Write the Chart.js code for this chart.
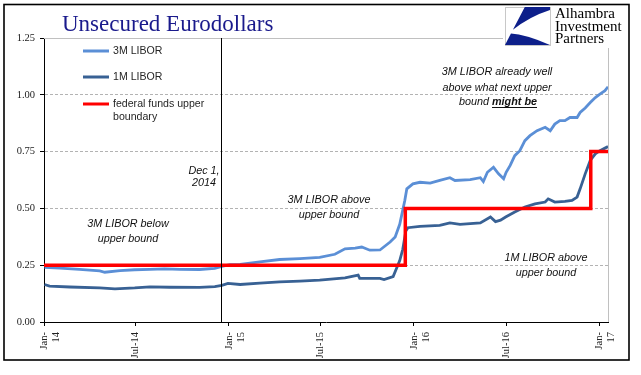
<!DOCTYPE html>
<html><head><meta charset="utf-8">
<script src="https://cdn.jsdelivr.net/npm/chart.js@4/dist/chart.umd.min.js"></script>
<style>html,body{margin:0;padding:0;background:#fff;}canvas{display:block;}</style>
</head><body>
<canvas id="c" width="641" height="375"></canvas>
<script>
// ---------- data ----------
const startDate = '2014-01-01';
const endDate = '2017-01-18';

const dates3M = ['2014-01-02','2014-02-01','2014-03-12','2014-04-21','2014-05-01','2014-05-31','2014-06-29','2014-07-29','2014-08-27','2014-09-26','2014-11-04','2014-12-04','2014-12-18',
 '2015-01-03','2015-01-23','2015-03-03','2015-04-11','2015-05-21','2015-06-29','2015-07-29','2015-08-18','2015-09-07','2015-09-20','2015-10-06','2015-10-26','2015-11-15','2015-11-25','2015-12-04','2015-12-14','2015-12-18','2015-12-30',
 '2016-01-13','2016-02-02','2016-02-21','2016-03-12','2016-03-22','2016-04-21','2016-05-11','2016-05-17','2016-05-25','2016-06-06','2016-06-16','2016-06-26','2016-07-01','2016-07-09','2016-07-18','2016-07-28','2016-08-07','2016-08-17','2016-08-31','2016-09-16','2016-09-26','2016-10-05','2016-10-15','2016-10-25','2016-11-04','2016-11-18','2016-11-24','2016-12-04','2016-12-14','2016-12-24',
 '2017-01-02','2017-01-12','2017-01-18'];
const libor3M = [0.240,0.237,0.232,0.225,0.219,0.226,0.230,0.232,0.234,0.232,0.231,0.236,0.245,
 0.252,0.254,0.265,0.275,0.279,0.284,0.298,0.322,0.325,0.330,0.316,0.317,0.352,0.374,0.430,0.535,0.586,0.608,
 0.615,0.611,0.623,0.635,0.623,0.627,0.635,0.618,0.659,0.681,0.652,0.630,0.659,0.689,0.732,0.754,0.798,0.820,0.842,0.857,0.842,0.871,0.886,0.886,0.900,0.900,0.922,0.942,0.966,0.988,
 1.003,1.018,1.035];

const dates1M = ['2014-01-02','2014-01-12','2014-02-21','2014-04-21','2014-05-21','2014-06-29','2014-07-29','2014-09-06','2014-11-04','2014-12-04','2014-12-18','2014-12-30',
 '2015-01-23','2015-03-03','2015-04-11','2015-05-21','2015-06-29','2015-08-18','2015-09-13','2015-09-16','2015-10-26','2015-11-03','2015-11-21','2015-11-29','2015-12-04','2015-12-10','2015-12-16','2015-12-20',
 '2016-01-13','2016-02-21','2016-03-12','2016-04-01','2016-05-11','2016-05-31','2016-06-10','2016-06-20','2016-06-30','2016-07-18','2016-08-07','2016-08-27','2016-09-16','2016-09-22','2016-10-05','2016-10-25','2016-11-08','2016-11-18','2016-11-24','2016-12-04','2016-12-14','2016-12-24',
 '2017-01-02','2017-01-18'];
const libor1M = [0.165,0.158,0.154,0.150,0.146,0.150,0.155,0.153,0.152,0.156,0.161,0.170,
 0.165,0.171,0.177,0.180,0.184,0.194,0.206,0.192,0.192,0.187,0.200,0.243,0.270,0.320,0.400,0.415,
 0.421,0.425,0.436,0.430,0.436,0.462,0.442,0.448,0.462,0.484,0.506,0.520,0.528,0.542,0.528,0.531,0.535,0.550,0.586,0.652,0.711,0.740,
 0.754,0.772];

const fedDates = ['2014-01-01','2015-12-15','2016-12-15','2017-01-18'];
const fedUpper = [0.25,0.50,0.75,0.75];

const tickDates = ['2014-01-01','2014-07-01','2015-01-01','2015-07-01','2016-01-01','2016-07-01','2017-01-01'];
const tickLabels = [['Jan-','14'],'Jul-14',['Jan-','15'],'Jul-15',['Jan-','16'],'Jul-16',['Jan-','17']];
const yTicks = [0,0.25,0.5,0.75,1.0,1.25];
const yTickLabels = ['0.00','0.25','0.50','0.75','1.00','1.25'];
const markerDate = '2014-12-16';

// ---------- helpers ----------
function dayNum(s){const p=s.split('-').map(Number);return Math.round((Date.UTC(p[0],p[1]-1,p[2])-Date.UTC(2014,0,1))/864e5);}
const pts=(ds,vs)=>ds.map((d,i)=>({x:dayNum(d),y:vs[i]}));

const C3M='#5b8fd6', C1M='#386194', CFED='#ff0000';

const decor={
  id:'decor',
  beforeDatasetsDraw(chart){
    const {ctx,chartArea:a}=chart;
    ctx.save();ctx.strokeStyle='#c0c0c0';ctx.lineWidth=1;ctx.setLineDash([]);
    ctx.beginPath();ctx.moveTo(a.left,Math.round(a.top)+0.5);ctx.lineTo(a.right,Math.round(a.top)+0.5);
    ctx.moveTo(Math.round(a.right)+0.5,a.top);ctx.lineTo(Math.round(a.right)+0.5,a.bottom);ctx.stroke();ctx.restore();
  },
  afterDatasetsDraw(chart){
    const {ctx,chartArea:a,scales:{x}}=chart;
    const mx=Math.round(x.getPixelForValue(dayNum(markerDate)))+0.5;
    ctx.save();ctx.strokeStyle='#000';ctx.lineWidth=1;ctx.beginPath();ctx.moveTo(mx,a.top);ctx.lineTo(mx,a.bottom);ctx.stroke();ctx.restore();
  },
  afterDraw(chart){
    const ctx=chart.ctx;
    ctx.save();
    // title
    ctx.fillStyle='#1a1a8c';ctx.font='23px "Liberation Serif"';ctx.textAlign='left';ctx.textBaseline='alphabetic';
    ctx.fillText('Unsecured Eurodollars',62,31);
    // logo box
    ctx.fillStyle='#fff';ctx.fillRect(503,5,125,43);
    const L=505,T=7,W=45,H=38;
    ctx.strokeStyle='#c8c8c8';ctx.lineWidth=1;ctx.strokeRect(L+0.5,T+0.5,W,H);
    const P=(u,v)=>[L+u*W,T+v*H];
    ctx.fillStyle='#0d1f8a';
    ctx.beginPath();ctx.moveTo(...P(0.44,0));ctx.lineTo(...P(1,0));ctx.lineTo(...P(1,0.08));
    ctx.quadraticCurveTo(...P(0.55,0.25),...P(0.176,0.6));ctx.closePath();ctx.fill();
    ctx.beginPath();ctx.moveTo(...P(0.132,0.7));ctx.quadraticCurveTo(...P(0.45,0.72),...P(1,1));ctx.lineTo(...P(0,1));ctx.closePath();ctx.fill();
    ctx.fillStyle='#000';ctx.font='15px "Liberation Serif"';
    ctx.fillText('Alhambra',555,18);ctx.fillText('Investment',555,31);ctx.fillText('Partners',555,43);
    // legend
    const leg=[[C3M,'3M LIBOR',51],[C1M,'1M LIBOR',77],[CFED,'federal funds upper',104]];
    ctx.font='10.6px "Liberation Sans"';ctx.textBaseline='middle';
    leg.forEach(([c,t,y])=>{ctx.strokeStyle=c;ctx.lineWidth=3;ctx.beginPath();ctx.moveTo(83,y);ctx.lineTo(109,y);ctx.stroke();
      ctx.fillStyle='#262626';ctx.fillText(t,113,y);});
    ctx.fillText('boundary',113,117);
    // annotations
    const f1='italic 10.8px "Liberation Sans"', f2='italic bold 10.8px "Liberation Sans"';
    ctx.fillStyle='#111';ctx.font=f1;ctx.textAlign='center';
    const notes=[['3M LIBOR below',128,224],['upper bound',128,239],['Dec 1,',204,171],['2014',204,183],
      ['3M LIBOR above',329,200],['upper bound',329,215],['3M LIBOR already well',497,72],['above what next upper',497,88],
      ['1M LIBOR above',546,258],['upper bound',546,273]];
    notes.forEach(([t,x,y])=>ctx.fillText(t,x,y));
    ctx.textAlign='left';
    const w1=ctx.measureText('bound ').width;ctx.font=f2;const w2=ctx.measureText('might be').width;
    const sx=498-(w1+w2)/2;ctx.font=f1;ctx.fillText('bound ',sx,102);ctx.font=f2;ctx.fillText('might be',sx+w1,102);
    ctx.fillRect(sx+w1,107,w2,1);
    // outer frame
    ctx.strokeStyle='#000';ctx.lineWidth=1.6;ctx.strokeRect(4,4.5,625,355.5);
    ctx.restore();
  }
};

new Chart(document.getElementById('c'),{
  type:'line',
  data:{datasets:[
    {label:'federal funds upper boundary',data:pts(fedDates,fedUpper),borderColor:CFED,borderWidth:3.5,stepped:'before',pointRadius:0,fill:false},
    {label:'3M LIBOR',data:pts(dates3M,libor3M),borderColor:C3M,borderWidth:2.8,pointRadius:0,tension:0,fill:false},
    {label:'1M LIBOR',data:pts(dates1M,libor1M),borderColor:C1M,borderWidth:2.8,pointRadius:0,tension:0,fill:false}
  ]},
  options:{
    responsive:false,animation:false,devicePixelRatio:1,
    layout:{padding:{left:4,right:33,top:38,bottom:13}},
    plugins:{legend:{display:false},tooltip:{enabled:false},title:{display:false}},
    scales:{
      x:{type:'linear',min:dayNum(startDate),max:dayNum(endDate),
        afterBuildTicks:s=>{s.ticks=tickDates.map(d=>({value:dayNum(d)}));},
        afterFit:s=>{s.height=40;},
        ticks:{autoSkip:false,minRotation:90,maxRotation:90,padding:6,color:'#222',font:{family:'Liberation Serif',size:10.5,lineHeight:1.15},callback:(v,i)=>tickLabels[i]},
        grid:{drawOnChartArea:false,drawTicks:true,tickLength:4,tickColor:'#000',color:'#000'},
        border:{display:true,color:'#000',width:1}},
      y:{min:0,max:1.25,
        afterBuildTicks:s=>{s.ticks=yTicks.map(v=>({value:v}));},
        afterFit:s=>{s.width=40;},
        ticks:{padding:5,color:'#222',font:{family:'Liberation Serif',size:10.5},callback:(v,i)=>yTickLabels[i]},
        grid:{color:c=>(c.tick&&c.tick.value===0)?'rgba(0,0,0,0)':'#b3b3b3',tickColor:'#000',tickLength:4,drawTicks:true,tickBorderDash:[]},
        border:{display:true,color:'#000',width:1,dash:[3,2]}}
    }
  },
  plugins:[decor]
});
</script>
</body></html>
